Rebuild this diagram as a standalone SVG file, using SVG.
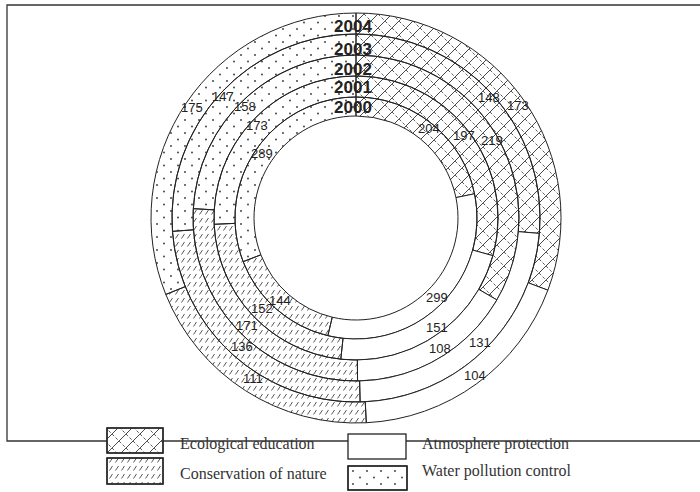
<svg xmlns="http://www.w3.org/2000/svg" width="700" height="492" viewBox="0 0 700 492">
<defs>
<pattern id="pEco" patternUnits="userSpaceOnUse" width="14" height="14">
<path d="M0,14 L14,0 M-2,2 L2,-2 M12,16 L16,12" stroke="#333" stroke-width="0.9"/>
<path d="M0,0 L14,14 M-2,12 L2,16 M12,-2 L16,2" stroke="#333" stroke-width="0.8" stroke-dasharray="3,2"/>
</pattern>
<pattern id="pCons" patternUnits="userSpaceOnUse" width="6" height="8">
<path d="M1.5,6.5 L4.5,2" stroke="#444" stroke-width="0.9"/>
</pattern>
<pattern id="pWater" patternUnits="userSpaceOnUse" width="14" height="13">
<circle cx="3" cy="3" r="0.9" fill="#333"/>
<circle cx="10" cy="9.5" r="0.9" fill="#333"/>
</pattern>
</defs>
<style>
.seg{stroke:#222;stroke-width:1;}
.eco{fill:url(#pEco);}
.atm{fill:#fff;}
.con{fill:url(#pCons);}
.wat{fill:url(#pWater);}
.yr{font-family:"Liberation Sans",Arial,sans-serif;font-size:17px;font-weight:bold;fill:#222;text-anchor:middle;}
.num{font-family:"Liberation Sans",Arial,sans-serif;font-size:13px;fill:#222;}
.leg{font-family:"Liberation Serif","Times New Roman",serif;font-size:16px;fill:#333;}
.frame{stroke:#333;stroke-width:1.3;fill:none;}
.lbox{stroke:#222;stroke-width:1.3;}
</style>
<rect width="700" height="492" fill="#fff"/>
<g id="frame">
<path class="frame" d="M700,5 L7,5 L7,441 L700,441"/>
</g>
<g id="ring2000">
<path class="seg eco" d="M356,97 A121,121 0 0 1 474.56,193.79 L455.94,197.59 A102,102 0 0 0 356,116 Z"/>
<path class="seg atm" d="M474.56,193.79 A121,121 0 0 1 327.83,335.68 L332.26,317.2 A102,102 0 0 0 455.94,197.59 Z"/>
<path class="seg con" d="M327.83,335.68 A121,121 0 0 1 243.15,261.66 L260.87,254.8 A102,102 0 0 0 332.26,317.2 Z"/>
<path class="seg wat" d="M243.15,261.66 A121,121 0 0 1 356,97 L356,116 A102,102 0 0 0 260.87,254.8 Z"/>
</g>
<g id="ring2001">
<path class="seg eco" d="M356,76 A142,142 0 0 1 492.92,255.66 L472.67,250.09 A121,121 0 0 0 356,97 Z"/>
<path class="seg atm" d="M492.92,255.66 A142,142 0 0 1 340.79,359.18 L343.04,338.3 A121,121 0 0 0 472.67,250.09 Z"/>
<path class="seg con" d="M340.79,359.18 A142,142 0 0 1 214.14,224.29 L235.12,223.36 A121,121 0 0 0 343.04,338.3 Z"/>
<path class="seg wat" d="M214.14,224.29 A142,142 0 0 1 356,76 L356,97 A121,121 0 0 0 235.12,223.36 Z"/>
</g>
<g id="ring2002">
<path class="seg eco" d="M356,55 A163,163 0 0 1 496.91,299.94 L478.75,289.39 A142,142 0 0 0 356,76 Z"/>
<path class="seg atm" d="M496.91,299.94 A163,163 0 0 1 357.56,380.99 L357.36,359.99 A142,142 0 0 0 478.75,289.39 Z"/>
<path class="seg con" d="M357.56,380.99 A163,163 0 0 1 193.27,208.65 L214.23,209.85 A142,142 0 0 0 357.36,359.99 Z"/>
<path class="seg wat" d="M193.27,208.65 A163,163 0 0 1 356,55 L356,76 A142,142 0 0 0 214.23,209.85 Z"/>
</g>
<g id="ring2003">
<path class="seg eco" d="M356,34 A184,184 0 0 1 539.35,233.4 L518.43,231.64 A163,163 0 0 0 356,55 Z"/>
<path class="seg atm" d="M539.35,233.4 A184,184 0 0 1 360.11,401.95 L359.64,380.96 A163,163 0 0 0 518.43,231.64 Z"/>
<path class="seg con" d="M360.11,401.95 A184,184 0 0 1 172.48,231.35 L193.43,229.82 A163,163 0 0 0 359.64,380.96 Z"/>
<path class="seg wat" d="M172.48,231.35 A184,184 0 0 1 356,34 L356,55 A163,163 0 0 0 193.43,229.82 Z"/>
</g>
<g id="ring2004">
<path class="seg eco" d="M356,13 A205,205 0 0 1 547.88,290.2 L528.22,282.8 A184,184 0 0 0 356,34 Z"/>
<path class="seg atm" d="M547.88,290.2 A205,205 0 0 1 366.3,422.74 L365.24,401.77 A184,184 0 0 0 528.22,282.8 Z"/>
<path class="seg con" d="M366.3,422.74 A205,205 0 0 1 165.79,294.46 L185.28,286.63 A184,184 0 0 0 365.24,401.77 Z"/>
<path class="seg wat" d="M165.79,294.46 A205,205 0 0 1 356,13 L356,34 A184,184 0 0 0 185.28,286.63 Z"/>
</g>
<g id="years">
<text class="yr" x="353" y="32">2004</text>
<text class="yr" x="353" y="55">2003</text>
<text class="yr" x="353" y="75">2002</text>
<text class="yr" x="353" y="93">2001</text>
<text class="yr" x="353" y="113">2000</text>
</g>
<g id="values">
<text class="num" x="181" y="112">175</text>
<text class="num" x="212" y="101">147</text>
<text class="num" x="234" y="111">158</text>
<text class="num" x="246" y="130">173</text>
<text class="num" x="251" y="158">289</text>
<text class="num" x="418" y="133">204</text>
<text class="num" x="453" y="140">197</text>
<text class="num" x="481" y="145">219</text>
<text class="num" x="478" y="102">148</text>
<text class="num" x="507" y="110">173</text>
<text class="num" x="426" y="302">299</text>
<text class="num" x="426" y="332">151</text>
<text class="num" x="429" y="353">108</text>
<text class="num" x="469" y="347">131</text>
<text class="num" x="464" y="380">104</text>
<text class="num" x="269" y="305">144</text>
<text class="num" x="251" y="313">152</text>
<text class="num" x="236" y="330">171</text>
<text class="num" x="231" y="351">136</text>
<text class="num" x="243" y="383">111</text>
</g>
<g id="legend">
<rect class="lbox" x="107" y="428" width="56" height="25" fill="#fff"/>
<rect class="lbox eco" x="107" y="428" width="56" height="25"/>
<text class="leg" x="180" y="449">Ecological education</text>
<rect class="lbox" x="348" y="434" width="58" height="25" fill="#fff"/>
<text class="leg" x="422" y="449">Atmosphere protection</text>
<rect class="lbox" x="107" y="458" width="56" height="26" fill="#fff"/>
<rect class="lbox con" x="107" y="458" width="56" height="26"/>
<text class="leg" x="180" y="479">Conservation of nature</text>
<rect class="lbox" x="348" y="466" width="59" height="24" fill="#fff"/>
<rect class="lbox wat" x="348" y="466" width="59" height="24"/>
<text class="leg" x="422" y="476">Water pollution control</text>
</g>
</svg>
